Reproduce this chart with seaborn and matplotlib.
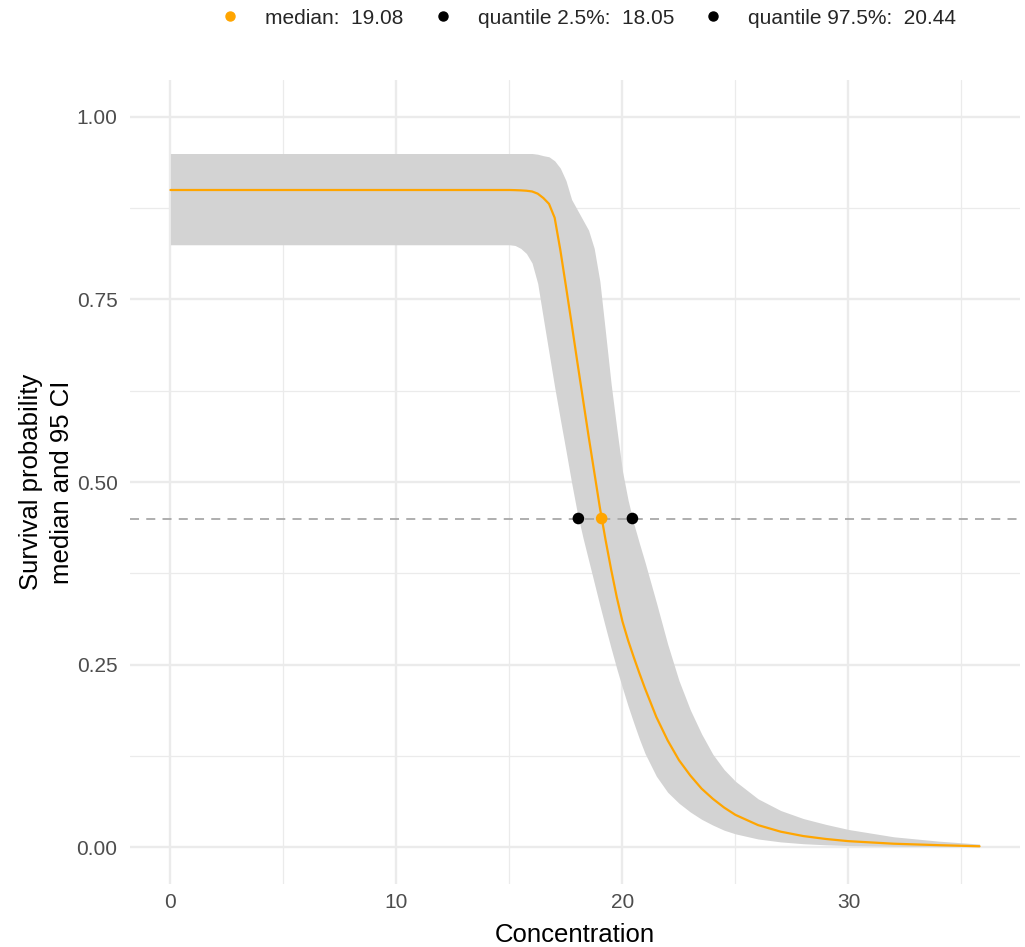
import numpy as np
import pandas as pd
import matplotlib
matplotlib.use('Agg')
import matplotlib.pyplot as plt
from matplotlib.ticker import MultipleLocator, FormatStrFormatter
from matplotlib.lines import Line2D
import seaborn as sns

# valeurs
concentration = [0, 14.5, 15, 15.25, 15.5, 15.75, 16, 16.25, 16.5, 16.75,
                 17, 17.25, 17.5, 17.75, 18, 18.25, 18.5, 18.75, 19, 19.25, 19.5, 19.75,
                 20, 20.25, 20.5, 20.75, 21,
                 21.5, 22, 22.5, 23, 23.5, 24, 24.5, 25,
                 26, 27, 28, 29, 30, 32, 34, 35.8]
q50 = [0.900, 0.900, 0.900, 0.8998, 0.8995, 0.899, 0.898, 0.895, 0.889, 0.881,
       0.862, 0.818, 0.768, 0.717, 0.665, 0.614, 0.563, 0.514, 0.465, 0.421, 0.380, 0.342,
       0.309, 0.283, 0.260, 0.238, 0.217,
       0.178, 0.146, 0.119, 0.098, 0.080, 0.066, 0.054, 0.044,
       0.030, 0.021, 0.015, 0.011, 0.008, 0.0045, 0.0025, 0.001]
q025 = [0.825, 0.825, 0.825, 0.824, 0.820, 0.813, 0.800, 0.772, 0.724, 0.677,
        0.630, 0.586, 0.543, 0.499, 0.458, 0.424, 0.393, 0.362, 0.331, 0.301, 0.272, 0.244,
        0.218, 0.193, 0.170, 0.148, 0.128,
        0.097, 0.075, 0.060, 0.048, 0.038, 0.030, 0.023, 0.018,
        0.011, 0.007, 0.0045, 0.003, 0.002, 0.001, 0.0005, 0.0003]
q975 = [0.950, 0.950, 0.950, 0.950, 0.950, 0.950, 0.950, 0.949, 0.947, 0.9455,
        0.940, 0.930, 0.913, 0.887, 0.873, 0.859, 0.845, 0.820, 0.775, 0.705, 0.634, 0.573,
        0.515, 0.475, 0.443, 0.416, 0.390,
        0.335, 0.278, 0.228, 0.188, 0.155, 0.127, 0.106, 0.090,
        0.066, 0.050, 0.039, 0.031, 0.024, 0.014, 0.008, 0.004]

lc_names = ["median", "quantile 2.5%", "quantile 97.5%"]
lc_values = [19.08, 18.05, 20.44]
lc_colors = ["orange", "black", "black"]
level = 0.45

df = pd.DataFrame({"conc": concentration, "q50": q50, "q025": q025, "q975": q975})
pts = pd.DataFrame({"x": lc_values, "y": [level] * 3, "name": lc_names})

sns.set_theme(style="white")
plt.rcParams['font.family'] = ['Liberation Sans', 'DejaVu Sans']

fig = plt.figure(figsize=(10.25, 9.47), dpi=100)
ax = fig.add_axes([130 / 1025, 1 - 883.5 / 947, 890 / 1025, 803 / 947])

# bande de credibilite 95%
ax.fill_between(df["conc"], df["q025"], df["q975"], color="#D3D3D3", lw=0, zorder=2)
ax.axhline(level, color="#A8A8A8", ls=(0, (5, 4)), lw=1.3, zorder=3)
sns.lineplot(data=df, x="conc", y="q50", color="orange", lw=1.6, ax=ax, zorder=4)
sns.scatterplot(data=pts, x="x", y="y", hue="name", palette=dict(zip(lc_names, lc_colors)),
                s=70, edgecolor="none", legend=False, ax=ax, zorder=5)

ax.set_xlim(-1.79, 37.59)
ax.set_ylim(-0.05, 1.05)
ax.xaxis.set_major_locator(MultipleLocator(10))
ax.xaxis.set_minor_locator(MultipleLocator(5))
ax.yaxis.set_major_locator(MultipleLocator(0.25))
ax.yaxis.set_minor_locator(MultipleLocator(0.125))
ax.yaxis.set_major_formatter(FormatStrFormatter('%.2f'))
ax.grid(which='major', color='#EBEBEB', lw=1.7)
ax.grid(which='minor', color='#EBEBEB', lw=0.9)
ax.set_axisbelow(True)
sns.despine(ax=ax, left=True, bottom=True)
ax.tick_params(which='both', length=0, labelsize=15, labelcolor='#4D4D4D')
ax.tick_params(axis='y', pad=9)
ax.tick_params(axis='x', pad=7)

ax.set_xlabel("Concentration", fontsize=18.5, color='black', labelpad=7.5)
ax.set_ylabel("Survival probability\nmedian and 95 CI", fontsize=18.5, color='black',
              labelpad=2, linespacing=1.35)

handles = [Line2D([], [], ls='none', marker='o', markersize=6.5, color=c) for c in lc_colors]
labels = [f"{n}:  {v:.2f}" for n, v in zip(lc_names, lc_values)]
fig.legend(handles, labels, loc='center', bbox_to_anchor=(588 / 1025, 1 - 18 / 947), ncol=3,
           frameon=False, fontsize=15, handlelength=1.0, handletextpad=1.18,
           columnspacing=1.39)

fig.savefig("out.png", dpi=100)
